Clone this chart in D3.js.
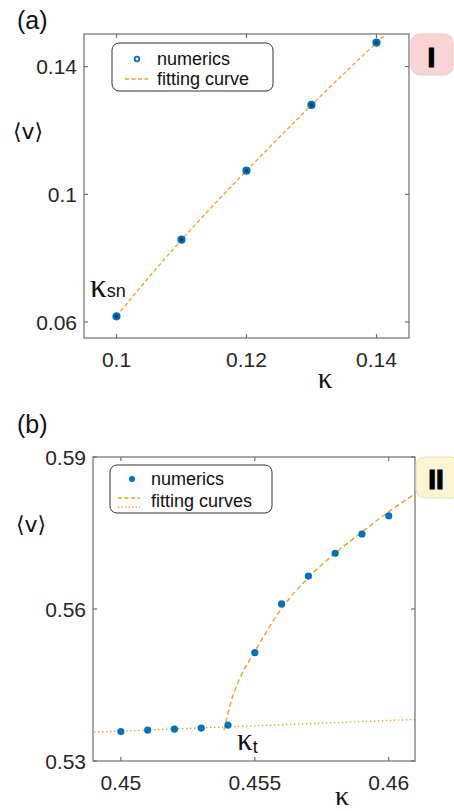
<!DOCTYPE html>
<html><head><meta charset="utf-8">
<script src="https://cdn.jsdelivr.net/npm/d3@7"></script>
<style>body{margin:0;background:#fff}svg{display:block}</style>
</head><body>
<svg id="chart" width="454" height="811"></svg>
<script>
// ---- Panel (a) data ----
const aKappa = [0.10, 0.11, 0.12, 0.13, 0.14];
const aV = [0.0618, 0.0858, 0.1074, 0.1280, 0.1475];
const aFitKappa = [0.100, 0.105, 0.110, 0.115, 0.120, 0.125, 0.130, 0.135, 0.140, 0.1415];
const aFitV = [0.0618, 0.0741, 0.0858, 0.0968, 0.1074, 0.1178, 0.1280, 0.1378, 0.1475, 0.1504];
const aXTicks = [0.10, 0.12, 0.14];
const aXTickLabels = ["0.1", "0.12", "0.14"];
const aYTicks = [0.06, 0.10, 0.14];
const aYTickLabels = ["0.06", "0.1", "0.14"];

// ---- Panel (b) data ----
const bKappa = [0.450, 0.451, 0.452, 0.453, 0.454, 0.455, 0.456, 0.457, 0.458, 0.459, 0.460];
const bV = [0.5358, 0.5361, 0.5363, 0.5365, 0.5371, 0.5514, 0.5610, 0.5665, 0.5710, 0.5748, 0.5784];
const bUpperKappa = [0.45385, 0.45413, 0.45444, 0.4550, 0.4560, 0.4570, 0.4580, 0.4590, 0.4600, 0.4610];
const bUpperV = [0.5361, 0.5420, 0.5463, 0.5516, 0.5601, 0.5662, 0.5710, 0.5752, 0.5792, 0.5828];
const bLowerKappa = [0.449, 0.461];
const bLowerV = [0.5357, 0.5382];
const bXTicks = [0.450, 0.455, 0.460];
const bXTickLabels = ["0.45", "0.455", "0.46"];
const bYTicks = [0.53, 0.56, 0.59];
const bYTickLabels = ["0.53", "0.56", "0.59"];

const BLUE = "#0072BD", ORANGE = "#EFA01F", AXIS = "#6e6e6e", TXT = "#262626";
const sans = "'Liberation Sans', Arial, Helvetica, sans-serif";
const serif = "'Liberation Serif', 'Times New Roman', serif";

const svg = d3.select("#chart");

function drawAxes(g, x, y, xTicks, xLabels, yTicks, yLabels) {
  const [x0, x1] = x.range(), [y0, y1] = y.range(); // y0 bottom, y1 top
  const tl = 4;
  const ax = g.append("g").attr("stroke", AXIS).attr("stroke-width", 1.2);
  xTicks.forEach(t => {
    ax.append("line").attr("x1", x(t)).attr("x2", x(t)).attr("y1", y0).attr("y2", y0 - tl);
    ax.append("line").attr("x1", x(t)).attr("x2", x(t)).attr("y1", y1).attr("y2", y1 + tl);
  });
  yTicks.forEach(t => {
    ax.append("line").attr("x1", x0).attr("x2", x0 + tl).attr("y1", y(t)).attr("y2", y(t));
    ax.append("line").attr("x1", x1).attr("x2", x1 - tl).attr("y1", y(t)).attr("y2", y(t));
  });
  ax.append("rect").attr("x", x0).attr("y", y1).attr("width", x1 - x0).attr("height", y0 - y1)
    .attr("fill", "none");
  const lab = g.append("g").attr("font-family", sans).attr("font-size", 21).attr("fill", TXT);
  xTicks.forEach((t, i) => lab.append("text").attr("x", x(t)).attr("y", y0 + 29)
    .attr("text-anchor", "middle").text(xLabels[i]));
  yTicks.forEach((t, i) => lab.append("text").attr("x", x0 - 7).attr("y", y(t) + 7.5)
    .attr("text-anchor", "end").text(yLabels[i]));
}

// ================= Panel (a) =================
{
  const g = svg.append("g");
  const x = d3.scaleLinear().domain([0.095, 0.145]).range([84, 409]);
  const y = d3.scaleLinear().domain([0.055, 0.1502]).range([338, 34]);
  g.append("clipPath").attr("id", "clipA").append("rect")
    .attr("x", 84).attr("y", 34).attr("width", 325).attr("height", 304);
  const line = d3.line().x(d => x(d[0])).y(d => y(d[1]));
  g.append("path").datum(aFitKappa.map((k, i) => [k, aFitV[i]]))
    .attr("clip-path", "url(#clipA)")
    .attr("d", line).attr("fill", "none").attr("stroke", ORANGE)
    .attr("stroke-width", 1.3).attr("stroke-dasharray", "4,2.5");
  g.selectAll("circle.pt").data(aKappa).join("circle").attr("class", "pt")
    .attr("cx", d => x(d)).attr("cy", (d, i) => y(aV[i])).attr("r", 3)
    .attr("fill", "#163a5e").attr("stroke", BLUE).attr("stroke-width", 2.2);
  drawAxes(g, x, y, aXTicks, aXTickLabels, aYTicks, aYTickLabels);

  // legend
  g.append("rect").attr("x", 112).attr("y", 43).attr("width", 161).attr("height", 48)
    .attr("rx", 7).attr("fill", "#fff").attr("stroke", "#333").attr("stroke-width", 1);
  g.append("circle").attr("cx", 137).attr("cy", 59).attr("r", 2.3)
    .attr("fill", "#fff").attr("stroke", BLUE).attr("stroke-width", 1.8);
  g.append("line").attr("x1", 125).attr("x2", 148).attr("y1", 79).attr("y2", 79)
    .attr("stroke", ORANGE).attr("stroke-width", 1.3).attr("stroke-dasharray", "4,2.5");
  const lt = g.append("g").attr("font-family", sans).attr("font-size", 18).attr("fill", "#111");
  lt.append("text").attr("x", 157).attr("y", 65).text("numerics");
  lt.append("text").attr("x", 157).attr("y", 85).text("fitting curve");

  // labels
  svg.append("text").attr("x", 17).attr("y", 29).attr("font-family", sans).attr("font-size", 25)
    .attr("fill", "#111").text("(a)");
  svg.append("text").attr("x", 28).attr("y", 139).attr("text-anchor", "middle")
    .attr("font-family", "'DejaVu Sans', sans-serif").attr("font-size", 22).attr("fill", "#111").text("⟨v⟩");
  svg.append("text").attr("x", 325).attr("y", 388).attr("text-anchor", "middle")
    .attr("font-family", serif).attr("font-size", 29).attr("fill", "#111").text("κ");
  const ksn = svg.append("text").attr("x", 90).attr("y", 297).attr("fill", "#111");
  ksn.append("tspan").attr("font-family", serif).attr("font-size", 33).text("κ");
  ksn.append("tspan").attr("font-family", sans).attr("font-size", 18).text("sn");

  // region tag I
  svg.append("rect").attr("x", 411).attr("y", 34).attr("width", 42).attr("height", 41)
    .attr("rx", 9).attr("fill", "#f9d4d4").attr("stroke", "#ebc7c7");
  svg.append("text").attr("x", 431.5).attr("y", 67).attr("text-anchor", "middle")
    .attr("font-family", sans).attr("font-weight", "bold").attr("font-size", 28)
    .attr("stroke", "#000").attr("stroke-width", 1.2).attr("fill", "#000").text("I");
}

// ================= Panel (b) =================
{
  const g = svg.append("g");
  const x = d3.scaleLinear().domain([0.44896, 0.46098]).range([93, 415]);
  const y = d3.scaleLinear().domain([0.53, 0.59]).range([761, 457]);
  g.append("clipPath").attr("id", "clipB").append("rect")
    .attr("x", 93).attr("y", 457).attr("width", 322).attr("height", 304);
  const line = d3.line().x(d => x(d[0])).y(d => y(d[1]));
  g.append("path").datum(bLowerKappa.map((k, i) => [k, bLowerV[i]]))
    .attr("clip-path", "url(#clipB)")
    .attr("d", line).attr("fill", "none").attr("stroke", ORANGE)
    .attr("stroke-width", 1.4).attr("stroke-dasharray", "1.4,2.6");
  g.append("path").datum(bUpperKappa.map((k, i) => [k, bUpperV[i]]))
    .attr("clip-path", "url(#clipB)")
    .attr("d", d3.line().x(d => x(d[0])).y(d => y(d[1])).curve(d3.curveMonotoneX))
    .attr("fill", "none").attr("stroke", ORANGE)
    .attr("stroke-width", 1.4).attr("stroke-dasharray", "5,3");
  g.selectAll("circle.pt").data(bKappa).join("circle").attr("class", "pt")
    .attr("cx", d => x(d)).attr("cy", (d, i) => y(bV[i])).attr("r", 3.6)
    .attr("fill", BLUE);
  drawAxes(g, x, y, bXTicks, bXTickLabels, bYTicks, bYTickLabels);

  // legend
  g.append("rect").attr("x", 110).attr("y", 465).attr("width", 162).attr("height", 48)
    .attr("rx", 7).attr("fill", "#fff").attr("stroke", "#333").attr("stroke-width", 1);
  g.append("circle").attr("cx", 132).attr("cy", 479).attr("r", 3).attr("fill", BLUE);
  g.append("line").attr("x1", 118).attr("x2", 140).attr("y1", 498).attr("y2", 498)
    .attr("stroke", ORANGE).attr("stroke-width", 1.3).attr("stroke-dasharray", "4,2.5");
  g.append("line").attr("x1", 118).attr("x2", 140).attr("y1", 507).attr("y2", 507)
    .attr("stroke", ORANGE).attr("stroke-width", 1.3).attr("stroke-dasharray", "1.3,2.2");
  const lt = g.append("g").attr("font-family", sans).attr("font-size", 18).attr("fill", "#111");
  lt.append("text").attr("x", 151).attr("y", 485).text("numerics");
  lt.append("text").attr("x", 151).attr("y", 507).text("fitting curves");

  svg.append("text").attr("x", 17).attr("y", 433).attr("font-family", sans).attr("font-size", 25)
    .attr("fill", "#111").text("(b)");
  svg.append("text").attr("x", 31).attr("y", 532).attr("text-anchor", "middle")
    .attr("font-family", "'DejaVu Sans', sans-serif").attr("font-size", 22).attr("fill", "#111").text("⟨v⟩");
  svg.append("text").attr("x", 342).attr("y", 805).attr("text-anchor", "middle")
    .attr("font-family", serif).attr("font-size", 28).attr("fill", "#111").text("κ");
  const kt = svg.append("text").attr("x", 237).attr("y", 750).attr("fill", "#111");
  kt.append("tspan").attr("font-family", serif).attr("font-size", 31).text("κ");
  kt.append("tspan").attr("font-family", sans).attr("font-size", 18).attr("dy", 3).text("t");

  svg.append("rect").attr("x", 416).attr("y", 457).attr("width", 44).attr("height", 41)
    .attr("rx", 9).attr("fill", "#faf5d3").attr("stroke", "#e5dfb8");
  svg.append("text").attr("x", 436).attr("y", 489).attr("text-anchor", "middle")
    .attr("font-family", sans).attr("font-weight", "bold").attr("font-size", 28)
    .attr("stroke", "#000").attr("stroke-width", 1.2).attr("fill", "#000").text("II");
}
</script>
</body></html>
